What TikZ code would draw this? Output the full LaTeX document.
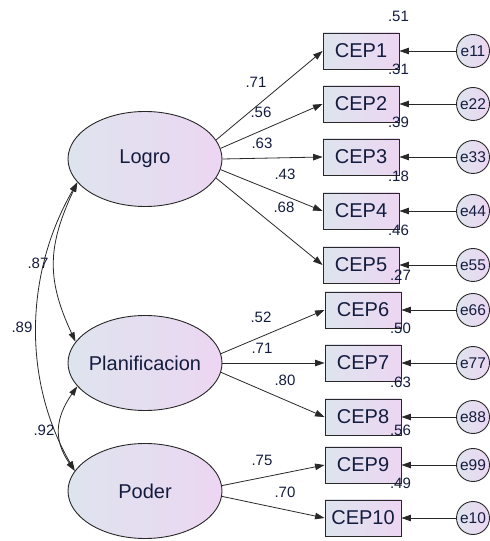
\documentclass[tikz,border=0pt]{standalone}
\usepackage{fontspec}
\setmainfont{Liberation Sans}
\usetikzlibrary{arrows.meta,shapes.geometric}
\definecolor{ink}{RGB}{20,28,62}
\definecolor{edge}{RGB}{40,40,40}
\definecolor{shadeL}{RGB}{222,228,238}
\definecolor{shadeR}{RGB}{236,214,242}
\begin{document}
\begin{tikzpicture}[x=1pt,y=1pt,
  shaded/.style={draw=edge, line width=0.9pt, left color=shadeL, right color=shadeR, inner sep=0pt, text=ink},
  latent/.style={shaded, ellipse, minimum width=154pt, minimum height=95pt, font=\fontsize{20}{24}\selectfont},
  obs/.style={shaded, rectangle, minimum width=76pt, minimum height=36pt, font=\fontsize{20}{24}\selectfont},
  err/.style={shaded, circle, minimum size=33pt, font=\fontsize{15.5}{18}\selectfont},
  load/.style={draw=edge, line width=0.8pt, -{Triangle[length=9.5pt,width=6.5pt]}},
  cov/.style={draw=edge, line width=0.8pt, {Triangle[length=9.5pt,width=6pt]}-{Triangle[length=9.5pt,width=6pt]}},
  val/.style={text=ink, inner sep=0pt, font=\fontsize{15}{18}\selectfont}
]
\useasboundingbox (0,0) rectangle (490,541);

% latent factors
\node[latent] (logro) at (145,382) {\makebox[0pt]{Logro}};
\node[latent] (plan)  at (145,178) {\makebox[0pt]{Planificacion}};
\node[latent] (poder) at (145,50)  {\makebox[0pt]{Poder}};

% observed indicators
\node[obs] (c1)  at (361,490) {CEP1};
\node[obs] (c2)  at (361,437) {CEP2};
\node[obs] (c3)  at (361,384) {CEP3};
\node[obs] (c4)  at (361,330) {CEP4};
\node[obs] (c5)  at (361,276) {CEP5};
\node[obs] (c6)  at (363,231) {CEP6};
\node[obs] (c7)  at (363,178) {CEP7};
\node[obs] (c8)  at (363,124) {CEP8};
\node[obs] (c9)  at (363,76)  {CEP9};
\node[obs] (c10) at (363,23)  {CEP10};

% error terms
\node[err] (e1)  at (473,490) {e11};
\node[err] (e2)  at (473,437) {e22};
\node[err] (e3)  at (473,384) {e33};
\node[err] (e4)  at (473,330) {e44};
\node[err] (e5)  at (473,276) {e55};
\node[err] (e6)  at (473,231) {e66};
\node[err] (e7)  at (473,178) {e77};
\node[err] (e8)  at (473,124) {e88};
\node[err] (e9)  at (473,76)  {e99};
\node[err] (e10) at (473,23)  {e10};

% factor loadings
\draw[load] (logro.15)  -- (c1.west);
\draw[load] (logro.8)   -- (c2.west);
\draw[load] (logro.0)   -- (c3.west);
\draw[load] (logro.-8)  -- (c4.west);
\draw[load] (logro.-15) -- (c5.west);
\draw[load] (plan.7)    -- (c6.west);
\draw[load] (plan.0)    -- (c7.west);
\draw[load] (plan.-7)   -- (c8.west);
\draw[load] (poder.4)   -- (c9.west);
\draw[load] (poder.-4)  -- (c10.west);

% error paths
\foreach \i in {1,...,10} { \draw[load] (e\i) -- (c\i); }

% factor covariances
\draw[cov] (logro.199) .. controls +(245:70) and +(115:70) .. (plan.163);
\draw[cov] (logro.199) .. controls +(240:105) and +(120:105) .. (poder.164);
\draw[cov] (plan.199)  .. controls +(235:38) and +(125:38) .. (poder.164);

% loading values
\node[val] (l1)  at (256,459) {.71};
\node[val] (l2)  at (261,429) {.56};
\node[val] (l3)  at (262,398) {.63};
\node[val] (l4)  at (285,367) {.43};
\node[val] (l5)  at (284,334) {.68};
\node[val] (l6)  at (261,224) {.52};
\node[val] (l7)  at (262,193) {.71};
\node[val] (l8)  at (285,161) {.80};
\node[val] (l9)  at (262,81)  {.75};
\node[val] (l10) at (285,49)  {.70};

% squared multiple correlations
\node[val] (r1)  at ([shift={(-1pt,16pt)}]c1.north east)  {.51};
\node[val] (r2)  at ([shift={(-1pt,16pt)}]c2.north east)  {.31};
\node[val] (r3)  at ([shift={(-1pt,16pt)}]c3.north east)  {.39};
\node[val] (r4)  at ([shift={(-1pt,16pt)}]c4.north east)  {.18};
\node[val] (r5)  at ([shift={(-1pt,16pt)}]c5.north east)  {.46};
\node[val] (r6)  at ([shift={(-1pt,16pt)}]c6.north east)  {.27};
\node[val] (r7)  at ([shift={(-1pt,16pt)}]c7.north east)  {.50};
\node[val] (r8)  at ([shift={(-1pt,16pt)}]c8.north east)  {.63};
\node[val] (r9)  at ([shift={(-1pt,16pt)}]c9.north east)  {.56};
\node[val] (r10) at ([shift={(-1pt,16pt)}]c10.north east) {.49};

% correlation values
\node[val] (k1) at (38,278) {.87};
\node[val] (k2) at (22,214) {.89};
\node[val] (k3) at (44,111) {.92};
\end{tikzpicture}
\end{document}
